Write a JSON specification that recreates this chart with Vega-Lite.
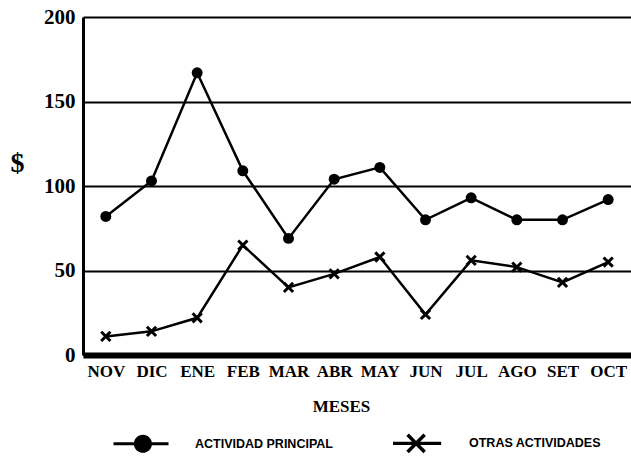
{
  "$schema": "https://vega.github.io/schema/vega-lite/v6.json",
  "width": 548,
  "height": 338,
  "autosize": {"type": "none"},
  "padding": {"left": 83, "top": 17, "right": 0, "bottom": 104},
  "background": "white",
  "config": {"view": {"stroke": null}},
  "data": {"values": [
    {"mes": "NOV", "serie": "ACTIVIDAD PRINCIPAL", "valor": 82},
    {"mes": "DIC", "serie": "ACTIVIDAD PRINCIPAL", "valor": 103},
    {"mes": "ENE", "serie": "ACTIVIDAD PRINCIPAL", "valor": 167},
    {"mes": "FEB", "serie": "ACTIVIDAD PRINCIPAL", "valor": 109},
    {"mes": "MAR", "serie": "ACTIVIDAD PRINCIPAL", "valor": 69},
    {"mes": "ABR", "serie": "ACTIVIDAD PRINCIPAL", "valor": 104},
    {"mes": "MAY", "serie": "ACTIVIDAD PRINCIPAL", "valor": 111},
    {"mes": "JUN", "serie": "ACTIVIDAD PRINCIPAL", "valor": 80},
    {"mes": "JUL", "serie": "ACTIVIDAD PRINCIPAL", "valor": 93},
    {"mes": "AGO", "serie": "ACTIVIDAD PRINCIPAL", "valor": 80},
    {"mes": "SET", "serie": "ACTIVIDAD PRINCIPAL", "valor": 80},
    {"mes": "OCT", "serie": "ACTIVIDAD PRINCIPAL", "valor": 92},
    {"mes": "NOV", "serie": "OTRAS ACTIVIDADES", "valor": 11},
    {"mes": "DIC", "serie": "OTRAS ACTIVIDADES", "valor": 14},
    {"mes": "ENE", "serie": "OTRAS ACTIVIDADES", "valor": 22},
    {"mes": "FEB", "serie": "OTRAS ACTIVIDADES", "valor": 65},
    {"mes": "MAR", "serie": "OTRAS ACTIVIDADES", "valor": 40},
    {"mes": "ABR", "serie": "OTRAS ACTIVIDADES", "valor": 48},
    {"mes": "MAY", "serie": "OTRAS ACTIVIDADES", "valor": 58},
    {"mes": "JUN", "serie": "OTRAS ACTIVIDADES", "valor": 24},
    {"mes": "JUL", "serie": "OTRAS ACTIVIDADES", "valor": 56},
    {"mes": "AGO", "serie": "OTRAS ACTIVIDADES", "valor": 52},
    {"mes": "SET", "serie": "OTRAS ACTIVIDADES", "valor": 43},
    {"mes": "OCT", "serie": "OTRAS ACTIVIDADES", "valor": 55}
  ]},
  "encoding": {
    "x": {
      "field": "mes", "type": "ordinal",
      "sort": ["NOV","DIC","ENE","FEB","MAR","ABR","MAY","JUN","JUL","AGO","SET","OCT"],
      "scale": {"type": "point", "padding": 0.5},
      "axis": {
        "title": "MESES", "labelAngle": 0, "ticks": false, "grid": false,
        "domainColor": "black", "domainWidth": 6,
        "labelFont": "Liberation Serif", "labelFontWeight": "bold", "labelFontSize": 17, "labelColor": "black",
        "labelPadding": 8,
        "titleFont": "Liberation Serif", "titleFontWeight": "bold", "titleFontSize": 17, "titleColor": "black",
        "titleX": 258, "titleY": 51, "titleAlign": "center", "titleBaseline": "middle", "titleAnchor": null
      }
    },
    "y": {
      "field": "valor", "type": "quantitative",
      "scale": {"domain": [0, 200], "nice": false},
      "axis": {
        "title": "$", "values": [0, 50, 100, 150, 200], "ticks": false,
        "grid": true, "gridColor": "black", "gridWidth": 2, "gridOpacity": 1,
        "domainColor": "black", "domainWidth": 3,
        "labelFont": "Liberation Serif", "labelFontWeight": "bold", "labelFontSize": 21, "labelColor": "black",
        "labelPadding": 8,
        "titleFont": "Liberation Serif", "titleFontWeight": "bold", "titleFontSize": 28, "titleColor": "black",
        "titleAngle": 0, "titleX": -66, "titleY": 146, "titleAlign": "center", "titleBaseline": "middle"
      }
    }
  },
  "layer": [
    {
      "mark": {"type": "line", "color": "black", "strokeWidth": 2.5},
      "encoding": {"detail": {"field": "serie", "type": "nominal"}}
    },
    {
      "transform": [{"filter": "datum.serie === 'ACTIVIDAD PRINCIPAL'"}],
      "mark": {"type": "point", "shape": "circle", "filled": true, "color": "black", "opacity": 1, "size": 120}
    },
    {
      "transform": [{"filter": "datum.serie === 'OTRAS ACTIVIDADES'"}],
      "mark": {"type": "point", "shape": "M-1,-1L1,1M-1,1L1,-1", "filled": false, "color": "black", "strokeWidth": 3, "opacity": 1, "size": 85}
    },
    {
      "mark": {"type": "point", "fill": "black", "stroke": "black", "strokeWidth": 2.5, "opacity": 0, "size": 10},
      "encoding": {
        "shape": {
          "field": "serie", "type": "nominal",
          "scale": {
            "domain": ["ACTIVIDAD PRINCIPAL", "OTRAS ACTIVIDADES"],
            "range": [
              "M-1,-0.055H1V0.055H-1Z M0.4,0A0.33,0.33,0,1,1,-0.26,0A0.33,0.33,0,1,1,0.4,0Z",
              "M-0.8,-0.055H0.95V0.055H-0.8Z M-0.225,-0.355L0.395,0.265L0.305,0.355L-0.315,-0.265Z M-0.225,0.355L-0.315,0.265L0.305,-0.355L0.395,-0.265Z"
            ]
          },
          "legend": {
            "orient": "none", "legendX": 30.5, "legendY": 398.5, "direction": "horizontal",
            "title": null, "padding": 0, "symbolSize": 3025, "labelOffset": 26.5, "columnPadding": 54,
            "labelFont": "Liberation Sans", "labelFontWeight": "bold", "labelFontSize": 12.5, "labelColor": "black",
            "symbolStrokeWidth": 0, "symbolFillColor": "black", "symbolStrokeColor": "black", "symbolOpacity": 1
          }
        }
      }
    }
  ]
}
